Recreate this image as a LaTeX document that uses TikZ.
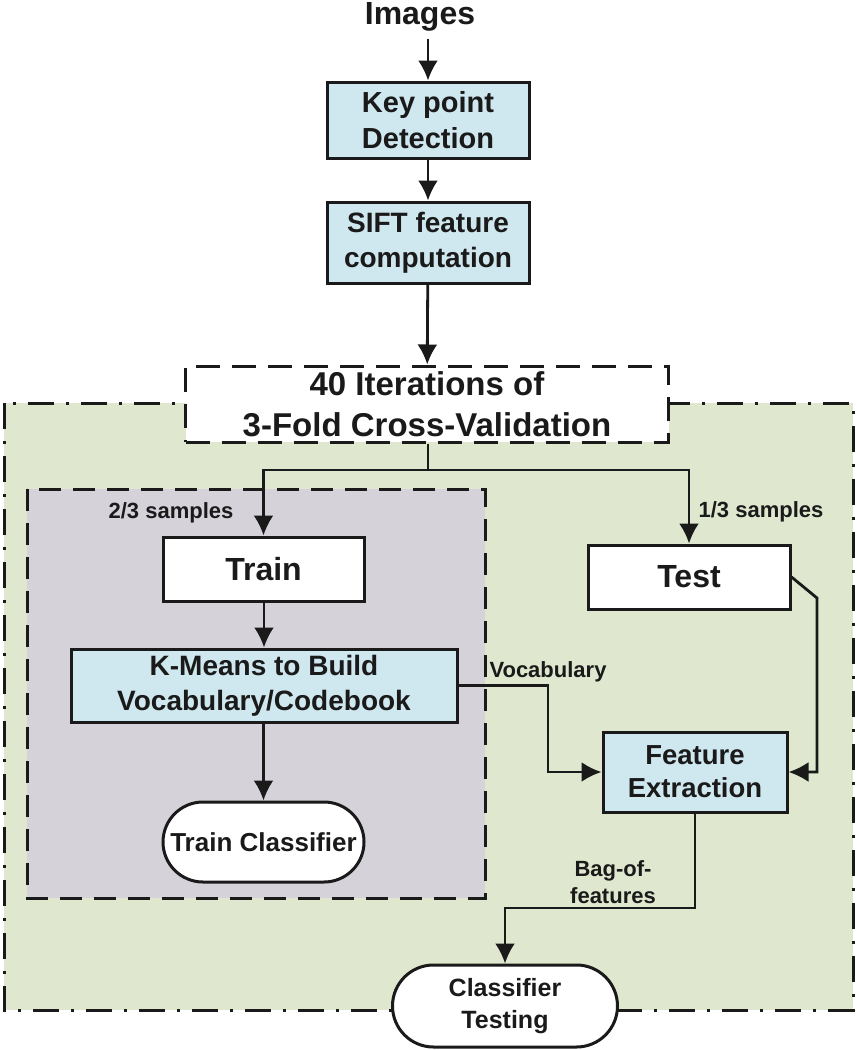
\documentclass[tikz,border=0pt]{standalone}
\usepackage{fontspec}
\setmainfont{Liberation Sans}
\usetikzlibrary{arrows.meta,positioning}
\definecolor{Ink}{HTML}{1A1A1A}
\definecolor{BoxBlue}{HTML}{CFE7EF}
\definecolor{SoftGreen}{HTML}{DFE8CE}
\definecolor{SoftGray}{HTML}{D5D2DA}

\begin{document}
\begin{tikzpicture}[x=1pt,y=-1pt,
  box/.style={draw=Ink,line width=3pt,fill=BoxBlue,align=center,inner sep=0pt,text=Ink,font=\bfseries\fontsize{29}{36}\selectfont},
  box2/.style={box,fill=white},
  term/.style={box,fill=white,rounded corners=40pt},
  note/.style={align=center,inner sep=0pt,text=Ink,font=\bfseries\fontsize{22}{27}\selectfont},
  panel/.style={draw=Ink,line width=3pt},
  link/.style={line width=2.8pt,draw=Ink},
  arrow/.style={link,-{Latex[length=20pt,width=20pt]}}
]
\useasboundingbox (0,0) rectangle (857,1050);
\fill[white] (0,0) rectangle (857,1050);
% cross-validation panels
\draw[panel,fill=SoftGreen,dash pattern=on 26pt off 12pt on 3pt off 12pt] (4,403) rectangle (853,1010);
\draw[panel,fill=SoftGray,dash pattern=on 22pt off 12pt] (27,489) rectangle (485,898);

\node[note,font=\bfseries\fontsize{32}{36}\selectfont] (img) at (420,17) {Images};
\node[box,minimum width=202pt,minimum height=76pt] (kp) at (428,120) {Key point\\Detection};
\node[box,minimum width=202pt,minimum height=81pt,font=\bfseries\fontsize{28}{35}\selectfont] (sift) at (428,242.5) {SIFT feature\\computation};
\node[box2,minimum width=483pt,minimum height=76pt,dash pattern=on 24pt off 12pt,font=\bfseries\fontsize{33}{41}\selectfont] (cv) at (427,404) {40 Iterations of\\3-Fold Cross-Validation};
\node[box2,minimum width=201pt,minimum height=64pt,font=\bfseries\fontsize{32}{36}\selectfont] (train) at (263.5,569) {Train};
\node[box2,minimum width=202pt,minimum height=64pt,font=\bfseries\fontsize{32}{36}\selectfont] (test) at (689,577) {Test};
\node[box,minimum width=386pt,minimum height=73pt,font=\bfseries\fontsize{28}{35}\selectfont] (km) at (264,685.5) {K-Means to Build\\Vocabulary/Codebook};
\node[term,minimum width=201pt,minimum height=80pt,font=\bfseries\fontsize{26}{32}\selectfont] (tc) at (263.5,842) {Train Classifier};
\node[box,minimum width=184pt,minimum height=80pt,font=\bfseries\fontsize{27.5}{33}\selectfont] (fe) at (695,772) {Feature\\Extraction};
\node[term,rounded corners=41pt,minimum width=225pt,minimum height=82pt,font=\bfseries\fontsize{25}{32}\selectfont] (ct) at (505,1006) {Classifier\\Testing};

\node[note] (twothirds) at (171,513) {2/3 samples};
\node[note] (onethird) at (761,512) {1/3 samples};
\node[note] (vocab) at (548,672) {Vocabulary};
\node[note] (bof) at (613,882) {Bag-of-\\features};

\coordinate (split) at (428,470);
\coordinate (vbend) at (548,685.5);
\coordinate (tbend) at (817,598);
\coordinate (bbend) at (695,908);

\draw[arrow,shorten <=7pt] (img.south -| kp.north) -- (kp.north);
\draw[arrow] (kp) -- (sift);
\draw[arrow] (sift) -- (cv);
\draw[link] (cv.south -| split) -- (split);
\draw[arrow] (split) -| (train.north);
\draw[arrow] (split) -| (test.north);
\draw[arrow] (train.south -| km.north) -- (km.north);
\draw[arrow] (km.south -| tc.north) -- (tc.north);
\draw[arrow] (km.east) -- (vbend) |- (fe.west);
\draw[arrow] (test.east) -- (tbend) |- (fe.east);
\draw[arrow] (fe.south) -- (bbend) -| (ct.north);
\end{tikzpicture}
\end{document}
